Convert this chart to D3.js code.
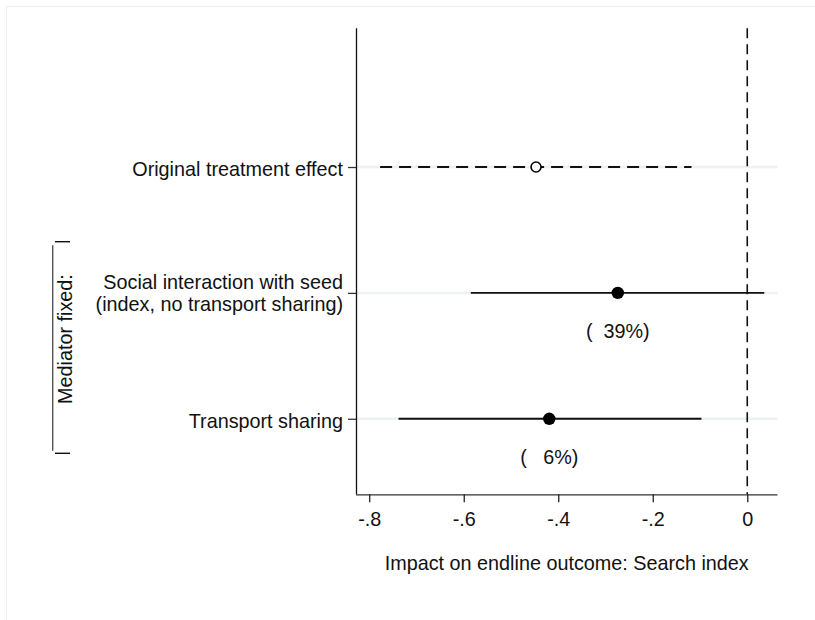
<!DOCTYPE html>
<html>
<head>
<meta charset="utf-8">
<script src="https://cdn.jsdelivr.net/npm/d3@7"></script>
<style>
  html, body { margin: 0; padding: 0; background: #fff; }
  svg { display: block; font-family: "Liberation Sans", Arial, Helvetica, sans-serif; }
</style>
</head>
<body>
<svg id="chart" width="815" height="620"></svg>
<script>
// ---- data ----
const categories = [
  ["Original treatment effect"],
  ["Social interaction with seed", "(index, no transport sharing)"],
  ["Transport sharing"]
];
const estimates = [-0.447, -0.274, -0.419];
const ciLow = [-0.777, -0.585, -0.738];
const ciHigh = [-0.118, 0.036, -0.097];
const shareLabels = ["", "(  39%)", "(   6%)"];
const isOriginal = [true, false, false];
const xTickValues = [-0.8, -0.6, -0.4, -0.2, 0];
const xTickLabels = ["-.8", "-.6", "-.4", "-.2", "0"];
const xTitle = "Impact on endline outcome: Search index";
const groupTitle = "Mediator fixed:";

// ---- layout ----
const FS = 19.8;
const svg = d3.select("#chart");
const plotLeft = 356, plotRight = 777.5, plotTop = 28.3, plotBottom = 494.3;

const x = d3.scaleLinear().domain([-0.828, 0.064]).range([plotLeft, plotRight]);
const y = d3.scaleLinear().domain([-0.102, 3.60]).range([plotTop, plotBottom]);

const rows = categories.map((c, i) => ({
  label: c, pos: i + 1, est: estimates[i], lo: ciLow[i], hi: ciHigh[i],
  share: shareLabels[i], orig: isOriginal[i]
}));

// faint outer frame
svg.append("rect").attr("x", 6.5).attr("y", 6.5).attr("width", 900).attr("height", 900)
  .attr("fill", "none").attr("stroke", "#eeeeee").attr("stroke-width", 1);

// grid lines at rows
svg.append("g").selectAll("line").data(rows).join("line")
  .attr("x1", plotLeft).attr("x2", plotRight)
  .attr("y1", d => y(d.pos)).attr("y2", d => y(d.pos))
  .attr("stroke", "#eaf2f3").attr("stroke-width", 2.5);

// zero reference line
svg.append("line")
  .attr("x1", x(0)).attr("x2", x(0)).attr("y1", plotTop).attr("y2", plotBottom)
  .attr("stroke", "#111").attr("stroke-width", 1.6).attr("stroke-dasharray", "10,6");

// x axis
const xAxis = d3.axisBottom(x).tickValues(xTickValues)
  .tickFormat((d, i) => xTickLabels[i]).tickSizeOuter(0).tickSize(8).tickPadding(5);
const gx = svg.append("g").attr("transform", `translate(0,${plotBottom})`).call(xAxis);
gx.attr("font-family", null).attr("font-size", null);
gx.select(".domain").attr("d", `M${plotLeft},0.5H${plotRight}`).attr("stroke", "#333").attr("stroke-width", 1.3);
gx.selectAll(".tick line").attr("stroke", "#222").attr("stroke-width", 1.3);
gx.selectAll(".tick text").attr("font-size", FS).attr("fill", "#111").attr("dy", null).attr("y", 31.3);

// y axis
const yAxis = d3.axisLeft(y).tickValues(rows.map(d => d.pos)).tickFormat("").tickSizeOuter(0).tickSize(8);
const gy = svg.append("g").attr("transform", `translate(${plotLeft},0)`).call(yAxis);
gy.select(".domain").attr("d", `M0.5,${plotTop}V${plotBottom}`).attr("stroke", "#111").attr("stroke-width", 1.3);
gy.selectAll(".tick line").attr("stroke", "#333").attr("stroke-width", 1.3);

// y tick labels (multi-line)
const lineH = 22;
const lab = svg.append("g").selectAll("text").data(rows).join("text")
  .attr("x", 343).attr("text-anchor", "end").attr("font-size", FS).attr("fill", "#111")
  .attr("y", d => y(d.pos) - (d.label.length - 1) * lineH / 2 + (d.label.length > 1 ? 7 : 9));
lab.selectAll("tspan").data(d => d.label).join("tspan")
  .attr("x", 343).attr("dy", (d, i) => i === 0 ? 0 : lineH).text(d => d);

// confidence intervals
svg.append("g").selectAll("line").data(rows).join("line")
  .attr("x1", d => x(d.lo)).attr("x2", d => x(d.hi))
  .attr("y1", d => y(d.pos)).attr("y2", d => y(d.pos))
  .attr("stroke", "#111").attr("stroke-width", 1.8)
  .attr("stroke-dasharray", d => d.orig ? "12,7" : null);

// point estimates
svg.append("g").selectAll("circle").data(rows).join("circle")
  .attr("cx", d => x(d.est)).attr("cy", d => y(d.pos))
  .attr("r", d => d.orig ? 5 : 6.2)
  .attr("fill", d => d.orig ? "#fff" : "#000")
  .attr("stroke", "#000").attr("stroke-width", d => d.orig ? 1.6 : 0);

// share labels
svg.append("g").selectAll("text").data(rows.filter(d => d.share)).join("text")
  .attr("x", d => x(d.est)).attr("y", d => y(d.pos) + 45)
  .attr("text-anchor", "middle").attr("font-size", FS).attr("fill", "#111")
  .style("white-space", "pre").text(d => d.share);

// x axis title
svg.append("text").attr("x", (plotLeft + plotRight) / 2).attr("y", 570)
  .attr("text-anchor", "middle").attr("font-size", FS).attr("fill", "#111").text(xTitle);

// group bracket
const bx = 52.7, bTop = 241.7, bBot = 453.3;
svg.append("line").attr("x1", bx).attr("x2", bx).attr("y1", bTop + 3.5).attr("y2", bBot - 2.5)
  .attr("stroke", "#555").attr("stroke-width", 1.4);
svg.append("line").attr("x1", 55).attr("x2", 70).attr("y1", bTop).attr("y2", bTop)
  .attr("stroke", "#111").attr("stroke-width", 1.4);
svg.append("line").attr("x1", 55).attr("x2", 70).attr("y1", bBot).attr("y2", bBot)
  .attr("stroke", "#111").attr("stroke-width", 1.4);
svg.append("text").attr("transform", `translate(72,339) rotate(-90)`)
  .attr("text-anchor", "middle").attr("font-size", FS).attr("fill", "#111").text(groupTitle);
</script>
</body>
</html>
